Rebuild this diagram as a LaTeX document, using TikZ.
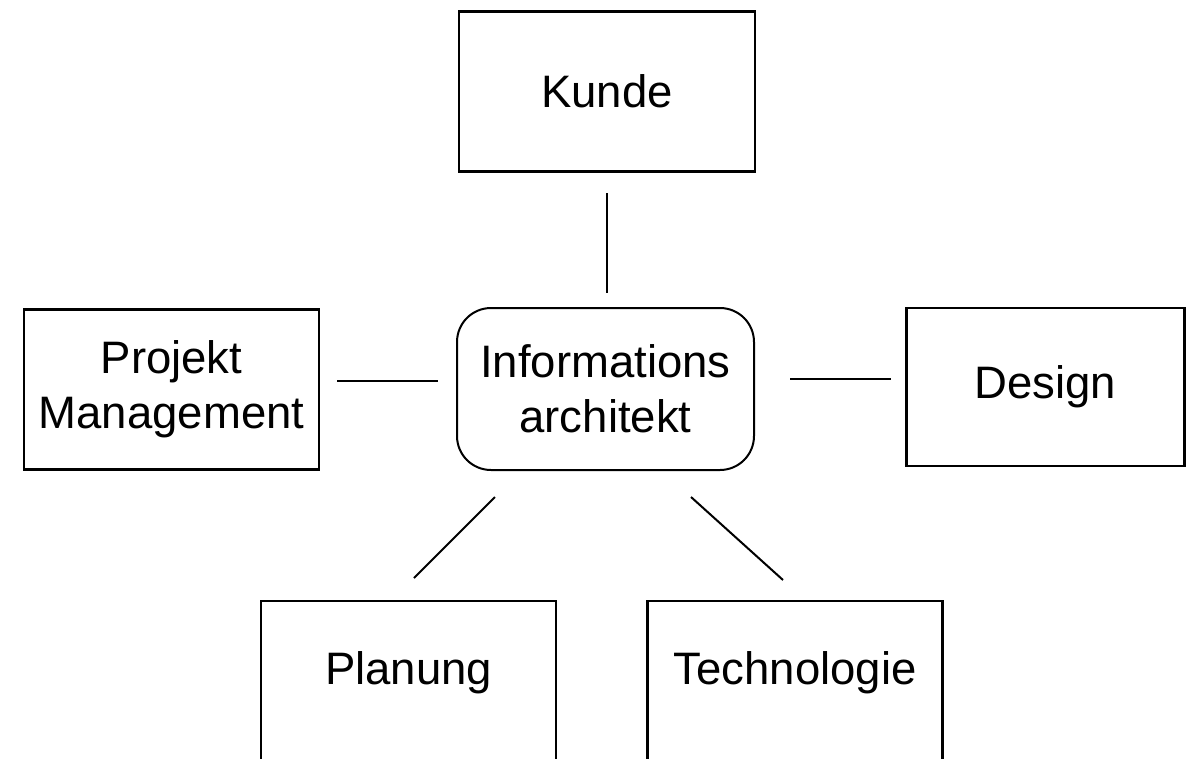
\documentclass[tikz,border=0pt]{standalone}
\usepackage{fontspec}
\setmainfont{Liberation Sans}
\begin{document}
\begin{tikzpicture}[x=1pt,y=-1pt,
  every node/.style={font=\fontsize{45.5}{56}\selectfont, align=center},
  box/.style={draw, line width=2.4pt, rectangle, inner sep=0pt},
  roundbox/.style={draw, line width=2pt, rectangle, rounded corners=34pt, inner sep=0pt},
  link/.style={line width=2pt}]
\clip (0,0) rectangle (1186,758);
\fill[white] (0,0) rectangle (1186,758);
% nodes
\node[box, minimum width=296pt, minimum height=160pt] (kunde) at (607,91.5) {Kunde};
\node[roundbox, minimum width=297pt, minimum height=162pt] (ia) at (605.5,389) {Informations\\[-1pt]architekt};
\node[box, minimum width=295pt, minimum height=160pt] (pm) at (171.5,389.5) {Projekt\\[-1pt]Management};
\node[box, minimum width=278pt, minimum height=158pt] (design) at (1045.5,387) {Design};
\node[box, minimum width=295pt, text height=83pt, text depth=77pt, anchor=north] (plan) at (408.5,600) {Planung};
\node[box, minimum width=295pt, text height=83pt, text depth=77pt, anchor=north] (tech) at (795,600) {Technologie};
% connector ends
\coordinate (k1) at (606.5,193);
\coordinate (k2) at (606.5,293);
\coordinate (l1) at (337,381);
\coordinate (l2) at (438,381);
\coordinate (r1) at (790,379);
\coordinate (r2) at (891,379);
\coordinate (p1) at (495,497);
\coordinate (p2) at (414,578);
\coordinate (t1) at (691,497);
\coordinate (t2) at (783,580);
\draw[link] (k1) -- (k2);
\draw[link] (l1) -- (l2);
\draw[link] (r1) -- (r2);
\draw[link] (p1) -- (p2);
\draw[link] (t1) -- (t2);
\end{tikzpicture}
\end{document}
